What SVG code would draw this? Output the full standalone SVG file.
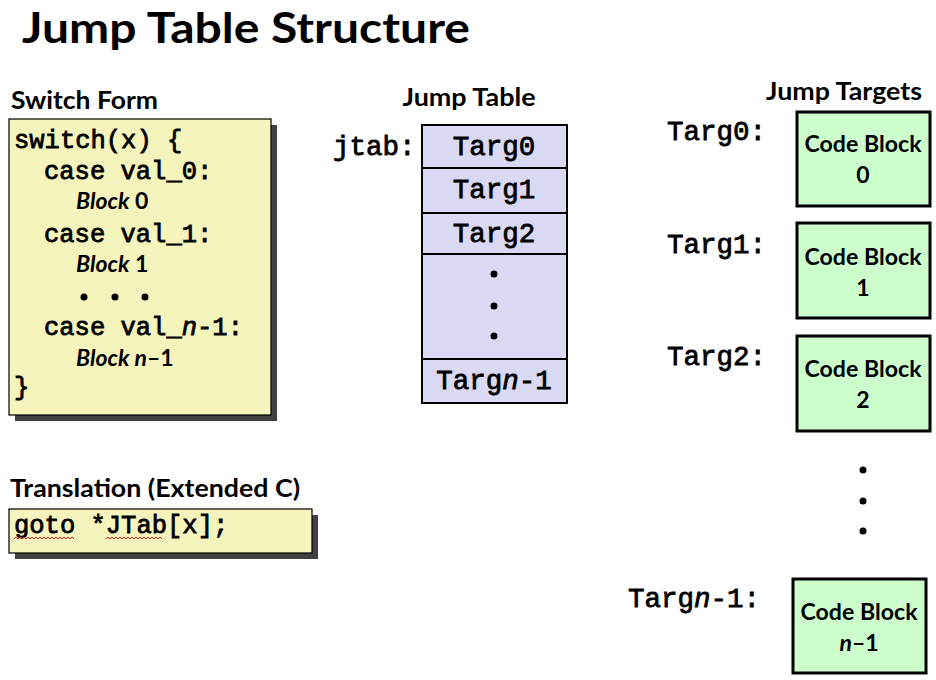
<svg xmlns="http://www.w3.org/2000/svg" width="936" height="680" viewBox="0 0 936 680">
  <style>
    .sans { font-family: Lato, "Open Sans", "Liberation Sans", sans-serif; font-weight: bold; fill: #000; }
    .mono { font-family: "Liberation Mono", "Courier New", monospace; font-weight: normal; fill: #000; stroke: #000; stroke-width: 0.8; }
    .code { font-size: 25.5px; }
    .lbl { font-size: 27.5px; }
    .blk { font-size: 23px; }
    .hdr { font-size: 24px; }
    .note { fill: #f6f4bd; stroke: #000; stroke-width: 1.2; }
    .shadow { fill: #404040; }
    .cell { fill: #d9d9f3; stroke: #000; stroke-width: 2; }
    .target { fill: #ccffcc; stroke: #000; stroke-width: 3; }
    .dot { fill: #000; }
    .squiggle { fill: none; stroke: #e02020; stroke-width: 1; }
  </style>

  <rect width="936" height="680" fill="#ffffff"/>

  <!-- Title -->
  <text class="sans" x="22" y="43" font-size="42" textLength="448" lengthAdjust="spacingAndGlyphs">Jump Table Structure</text>

  <!-- Switch form -->
  <g id="switch-form">
    <text class="sans hdr" x="11" y="109" textLength="147" lengthAdjust="spacingAndGlyphs">Switch Form</text>
    <rect class="shadow" x="15" y="125" width="262" height="296"/>
    <rect class="note" x="9" y="119" width="262" height="296"/>
    <text class="mono code" x="14" y="148">switch(x) {</text>
    <text class="mono code" x="44" y="179">case val_0:</text>
    <text class="sans blk" x="76" y="209"><tspan font-style="italic">Block</tspan> 0</text>
    <text class="mono code" x="44" y="242">case val_1:</text>
    <text class="sans blk" x="76" y="272"><tspan font-style="italic">Block</tspan> 1</text>
    <circle class="dot" cx="84" cy="297" r="3.5"/>
    <circle class="dot" cx="115" cy="297" r="3.5"/>
    <circle class="dot" cx="145" cy="297" r="3.5"/>
    <text class="mono code" x="44" y="335">case val_<tspan font-style="italic">n</tspan>-1:</text>
    <text class="sans blk" x="76" y="366"><tspan font-style="italic">Block n</tspan>–1</text>
    <text class="mono code" x="14" y="395">}</text>
  </g>

  <!-- Translation -->
  <g id="translation">
    <text class="sans hdr" x="10" y="497" textLength="290" lengthAdjust="spacingAndGlyphs">Translation (Extended C)</text>
    <rect class="shadow" x="15" y="515" width="303" height="44"/>
    <rect class="note" x="9" y="509" width="303" height="44"/>
    <text class="mono code" x="14" y="533">goto *JTab[x];</text>
    <path class="squiggle" d="M14 539 l2 -2 l2 2 l2 -2 l2 2 l2 -2 l2 2 l2 -2 l2 2 l2 -2 l2 2 l2 -2 l2 2 l2 -2 l2 2 l2 -2 l2 2 l2 -2 l2 2 l2 -2 l2 2 l2 -2 l2 2 l2 -2 l2 2 l2 -2 l2 2 l2 -2 l2 2 l2 -2 l2 2"/>
    <path class="squiggle" d="M106 539 l2 -2 l2 2 l2 -2 l2 2 l2 -2 l2 2 l2 -2 l2 2 l2 -2 l2 2 l2 -2 l2 2 l2 -2 l2 2 l2 -2 l2 2 l2 -2 l2 2 l2 -2 l2 2 l2 -2 l2 2 l2 -2 l2 2 l2 -2 l2 2 l2 -2 l2 2"/>
  </g>

  <!-- Jump table -->
  <g id="jump-table">
    <text class="sans hdr" x="469" y="106" text-anchor="middle" textLength="133" lengthAdjust="spacingAndGlyphs">Jump Table</text>
    <text class="mono lbl" x="333" y="155">jtab:</text>
    <rect class="cell" x="422" y="125" width="145" height="43"/>
    <rect class="cell" x="422" y="168" width="145" height="45"/>
    <rect class="cell" x="422" y="213" width="145" height="41"/>
    <rect class="cell" x="422" y="254" width="145" height="105"/>
    <rect class="cell" x="422" y="359" width="145" height="44"/>
    <text class="mono lbl" x="494" y="155" text-anchor="middle">Targ0</text>
    <text class="mono lbl" x="494" y="198" text-anchor="middle">Targ1</text>
    <text class="mono lbl" x="494" y="242" text-anchor="middle">Targ2</text>
    <circle class="dot" cx="494" cy="274" r="3.5"/>
    <circle class="dot" cx="494" cy="306" r="3.5"/>
    <circle class="dot" cx="494" cy="336" r="3.5"/>
    <text class="mono lbl" x="494" y="389" text-anchor="middle">Targ<tspan font-style="italic">n</tspan>-1</text>
  </g>

  <!-- Jump targets -->
  <text class="sans hdr" x="844" y="100" text-anchor="middle" textLength="156" lengthAdjust="spacingAndGlyphs">Jump Targets</text>

  <g id="target-0">
    <text class="mono lbl" x="667" y="140">Targ0:</text>
    <rect class="target" x="797" y="112" width="133" height="94"/>
    <text class="sans blk" x="863" y="152" text-anchor="middle" textLength="117" lengthAdjust="spacingAndGlyphs">Code Block</text>
    <text class="sans blk" x="863" y="183" text-anchor="middle">0</text>
  </g>

  <g id="target-1">
    <text class="mono lbl" x="667" y="253">Targ1:</text>
    <rect class="target" x="797" y="223" width="133" height="95"/>
    <text class="sans blk" x="863" y="265" text-anchor="middle" textLength="117" lengthAdjust="spacingAndGlyphs">Code Block</text>
    <text class="sans blk" x="863" y="296" text-anchor="middle">1</text>
  </g>

  <g id="target-2">
    <text class="mono lbl" x="667" y="365">Targ2:</text>
    <rect class="target" x="797" y="336" width="133" height="95"/>
    <text class="sans blk" x="863" y="377" text-anchor="middle" textLength="117" lengthAdjust="spacingAndGlyphs">Code Block</text>
    <text class="sans blk" x="863" y="408" text-anchor="middle">2</text>
  </g>

  <g id="target-ellipsis">
    <circle class="dot" cx="863" cy="470" r="3.5"/>
    <circle class="dot" cx="863" cy="501" r="3.5"/>
    <circle class="dot" cx="863" cy="531" r="3.5"/>
  </g>

  <g id="target-n-1">
    <text class="mono lbl" x="628" y="607">Targ<tspan font-style="italic">n</tspan>-1:</text>
    <rect class="target" x="793" y="579" width="133" height="94"/>
    <text class="sans blk" x="859" y="620" text-anchor="middle" textLength="117" lengthAdjust="spacingAndGlyphs">Code Block</text>
    <text class="sans blk" x="859" y="651" text-anchor="middle"><tspan font-style="italic">n</tspan>–1</text>
  </g>
</svg>
